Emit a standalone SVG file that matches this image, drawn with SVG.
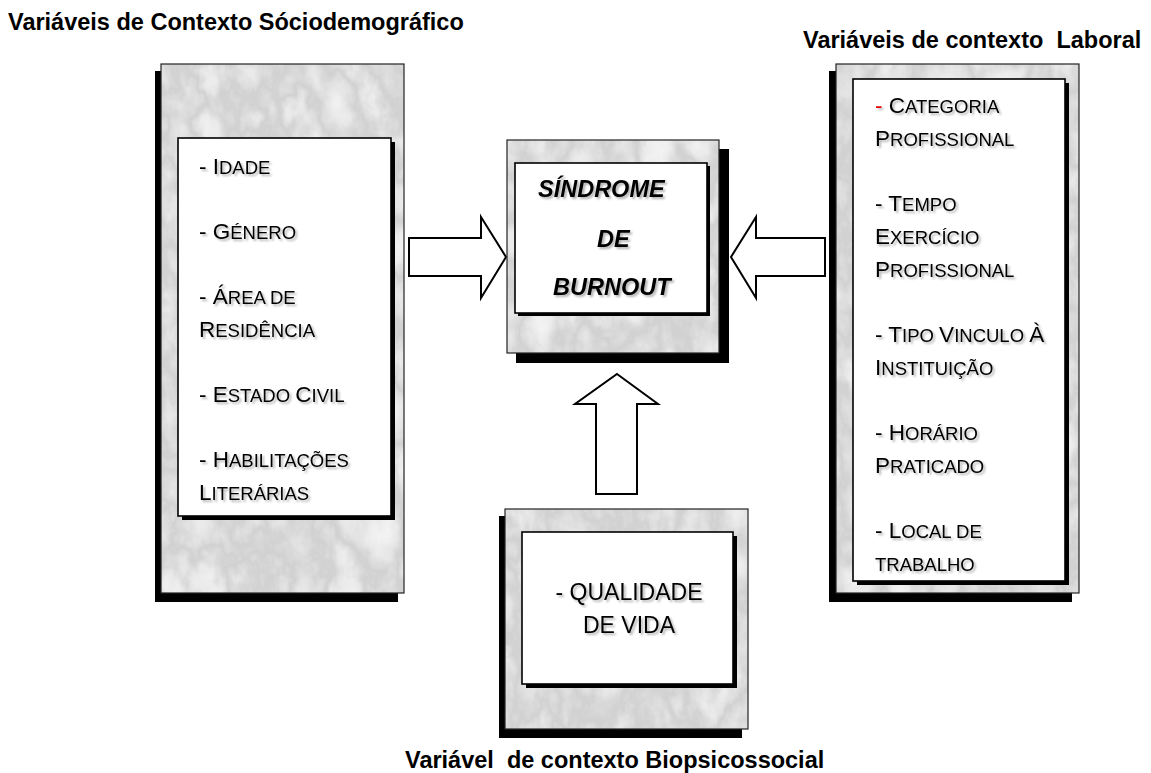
<svg xmlns="http://www.w3.org/2000/svg" width="1151" height="773" viewBox="0 0 1151 773">
<style>
.title{font-family:"Liberation Sans",Arial,sans-serif;font-weight:bold;font-size:23.5px;fill:#000}
.body{font-family:"Liberation Sans",Arial,sans-serif;font-size:22.5px;fill:#000}
.sc{font-size:18.5px}
.big{font-family:"Liberation Sans",Arial,sans-serif;font-weight:bold;font-style:italic;font-size:23.5px;fill:#000}
.shadow{fill:#000}
.marble{fill:#ececec;filter:url(#marble)}
.frame{fill:none;stroke:#222;stroke-width:1.2}
.inner{fill:#fff;stroke:#000;stroke-width:1.6}
.arrow{fill:#fff;stroke:#000;stroke-width:2;stroke-linejoin:miter}
</style>
<defs>
<filter id="marble" x="0%" y="0%" width="100%" height="100%" color-interpolation-filters="sRGB">
<feTurbulence type="fractalNoise" baseFrequency="0.025 0.018" numOctaves="5" seed="23" result="n"/>
<feColorMatrix in="n" type="matrix" values="0.34 0.33 0.33 0 0  0.34 0.33 0.33 0 0  0.34 0.33 0.33 0 0  0 0 0 0 1" result="g"/>
<feComponentTransfer in="g">
<feFuncR type="table" tableValues="0.99 0.97 0.95 0.9 0.82 0.92 0.96 0.98 1"/>
<feFuncG type="table" tableValues="0.99 0.97 0.95 0.9 0.82 0.92 0.96 0.98 1"/>
<feFuncB type="table" tableValues="0.99 0.97 0.95 0.9 0.82 0.92 0.96 0.98 1"/>
</feComponentTransfer>
</filter>
<filter id="ts" x="-5%" y="-20%" width="110%" height="140%">
<feDropShadow dx="2" dy="2" stdDeviation="1.2" flood-color="#000" flood-opacity="0.3"/>
</filter>
</defs>

<text class="title" x="8" y="30">Variáveis de Contexto Sóciodemográfico</text>
<text class="title" x="803" y="48" xml:space="preserve">Variáveis de contexto  Laboral</text>
<text class="title" x="405" y="768" xml:space="preserve">Variável  de contexto Biopsicossocial</text>

<g id="connectors">
<polygon class="arrow" points="409,238 481,238 481,217 506,257 481,298 481,276 409,276"/>
<polygon class="arrow" points="825,238 756,238 756,217 731,257 756,298 756,276 825,276"/>
<polygon class="arrow" points="617,374 658,404 637,404 637,494 596,494 596,404 575,404"/>
</g>

<g id="node-sociodemografico">
<rect class="shadow" x="155" y="71" width="243" height="531"/>
<rect class="marble" x="161" y="64" width="243" height="529"/>
<rect class="frame" x="161" y="64" width="243" height="529"/>
<rect class="shadow" x="182" y="142" width="213" height="378"/>
<rect class="inner" x="178" y="138" width="213" height="378"/>
<g class="body" filter="url(#ts)">
<text x="199" y="174">- I<tspan class="sc">DADE</tspan></text>
<text x="199" y="239">- G<tspan class="sc">ÉNERO</tspan></text>
<text x="199" y="304">- Á<tspan class="sc">REA DE</tspan></text>
<text x="199" y="337">R<tspan class="sc">ESIDÊNCIA</tspan></text>
<text x="199" y="402">- E<tspan class="sc">STADO </tspan>C<tspan class="sc">IVIL</tspan></text>
<text x="199" y="467">- H<tspan class="sc">ABILITAÇÕES</tspan></text>
<text x="199" y="500">L<tspan class="sc">ITERÁRIAS</tspan></text>
</g>
</g>

<g id="node-burnout">
<rect class="shadow" x="516" y="149" width="213" height="214"/>
<rect class="marble" x="507" y="140" width="212" height="213"/>
<rect class="frame" x="507" y="140" width="212" height="213"/>
<rect class="shadow" x="518" y="166" width="192" height="150"/>
<rect class="inner" x="515" y="163" width="192" height="150"/>
<g class="big" filter="url(#ts)">
<text x="538" y="197">SÍNDROME</text>
<text x="597" y="247">DE</text>
<text x="553" y="295">BURNOUT</text>
</g>
</g>

<g id="node-laboral">
<rect class="shadow" x="829" y="71" width="243" height="531"/>
<rect class="marble" x="836" y="64" width="243" height="529"/>
<rect class="frame" x="836" y="64" width="243" height="529"/>
<rect class="shadow" x="857" y="83" width="212" height="502"/>
<rect class="inner" x="853" y="79" width="212" height="502"/>
<g class="body" filter="url(#ts)">
<text x="875" y="113"><tspan fill="#e00000">-</tspan> C<tspan class="sc">ATEGORIA</tspan></text>
<text x="875" y="146">P<tspan class="sc">ROFISSIONAL</tspan></text>
<text x="875" y="211">- T<tspan class="sc">EMPO</tspan></text>
<text x="875" y="244">E<tspan class="sc">XERCÍCIO</tspan></text>
<text x="875" y="277">P<tspan class="sc">ROFISSIONAL</tspan></text>
<text x="875" y="342">- T<tspan class="sc">IPO </tspan>V<tspan class="sc">INCULO </tspan>À</text>
<text x="875" y="375">I<tspan class="sc">NSTITUIÇÃO</tspan></text>
<text x="875" y="440">- H<tspan class="sc">ORÁRIO</tspan></text>
<text x="875" y="473">P<tspan class="sc">RATICADO</tspan></text>
<text x="875" y="538">- L<tspan class="sc">OCAL DE</tspan></text>
<text x="875" y="571"><tspan class="sc">TRABALHO</tspan></text>
</g>
</g>

<g id="node-biopsicossocial">
<rect class="shadow" x="499" y="516" width="243" height="222"/>
<rect class="marble" x="505" y="509" width="243" height="220"/>
<rect class="frame" x="505" y="509" width="243" height="220"/>
<rect class="shadow" x="526" y="536" width="211" height="152"/>
<rect class="inner" x="522" y="532" width="211" height="152"/>
<g class="body" filter="url(#ts)" text-anchor="middle" style="font-size:23px">
<text x="629" y="600">- QUALIDADE</text>
<text x="629" y="633">DE VIDA</text>
</g>
</g>
</svg>
